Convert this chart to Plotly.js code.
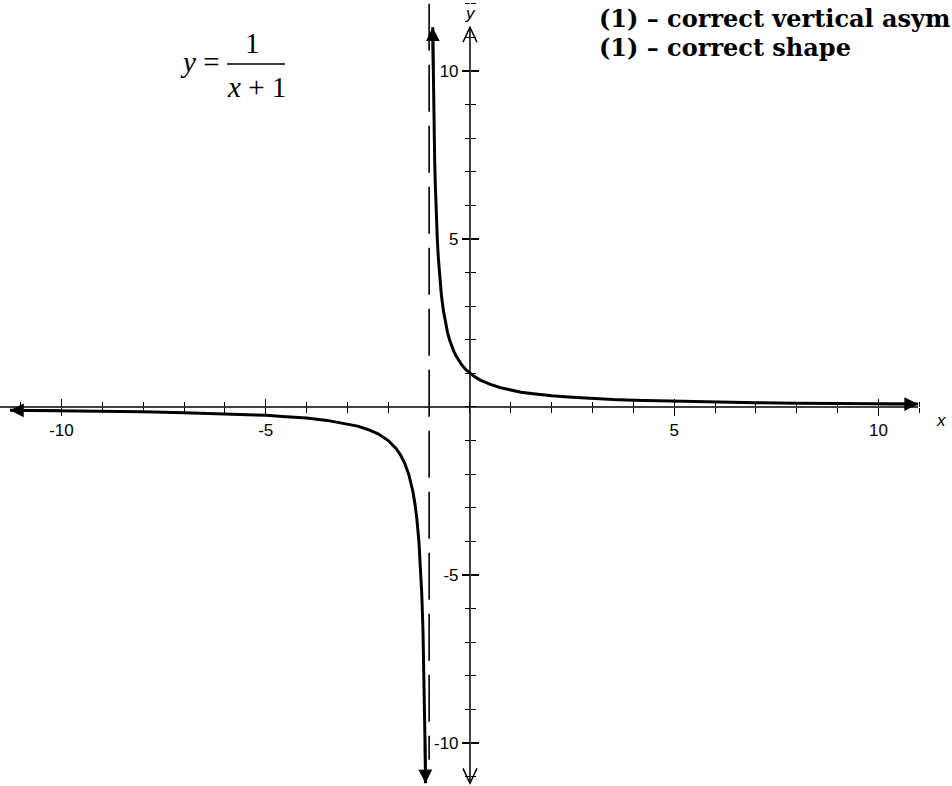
<!DOCTYPE html>
<html>
<head>
<meta charset="utf-8">
<script src="https://cdn.plot.ly/plotly-3.0.1.min.js"></script>
<style>html,body{margin:0;padding:0;background:#fff;}#chart{width:952px;height:786px;}</style>
</head>
<body>
<div id="chart"></div>
<script>
// ---- data ----
const rightBranchX = [-0.912, -0.9, -0.89, -0.88, -0.865, -0.85, -0.83, -0.8, -0.775, -0.75, -0.72, -0.7, -0.65, -0.6, -0.55, -0.5, -0.45, -0.4, -0.35, -0.3, -0.25, -0.2, -0.1, 0, 0.1, 0.25, 0.4, 0.5, 0.75, 1, 1.25, 1.5, 2, 2.5, 3, 3.5, 4, 5, 6, 7, 8, 9, 10, 10.97];
const rightBranchY = [11.3, 10, 9.09, 8.33, 7.41, 6.67, 5.88, 5, 4.44, 4, 3.57, 3.33, 2.86, 2.5, 2.22, 2, 1.82, 1.67, 1.54, 1.43, 1.33, 1.25, 1.11, 1, 0.91, 0.8, 0.71, 0.67, 0.57, 0.5, 0.44, 0.4, 0.33, 0.29, 0.25, 0.22, 0.2, 0.17, 0.14, 0.125, 0.11, 0.1, 0.09, 0.084];
const leftBranchX = [-11.26, -10, -9, -8, -7, -6, -5, -4.5, -4, -3.5, -3, -2.75, -2.5, -2.25, -2, -1.9, -1.8, -1.7, -1.6, -1.5, -1.45, -1.4, -1.35, -1.3, -1.25, -1.22, -1.2, -1.18, -1.15, -1.13, -1.12, -1.11, -1.1, -1.089];
const leftBranchY = [-0.097, -0.11, -0.125, -0.14, -0.17, -0.2, -0.25, -0.29, -0.33, -0.4, -0.5, -0.57, -0.67, -0.8, -1, -1.11, -1.25, -1.43, -1.67, -2, -2.22, -2.5, -2.86, -3.33, -4, -4.55, -5, -5.56, -6.67, -7.69, -8.33, -9.09, -10, -11.2];
const asymptoteX = -1;
const xTickVals = [-10, -5, 5, 10];
const xTickText = ["-10", "-5", "5", "10"];
const yTickVals = [-10, -5, 5, 10];
const yTickText = ["-10", "-5", "5", "10"];
const noteLines = ["(1) – correct vertical asym", "(1) – correct shape"];

// ---- layout helpers ----
const W = 952, H = 786;
const xRange = [-11.505, 11.80];
const yRange = [-11.28, 12.11];
const xAxisPos = (0 - yRange[0]) / (yRange[1] - yRange[0]);
const yAxisPos = (0 - xRange[0]) / (xRange[1] - xRange[0]);
const px = v => v / W;
const py = v => 1 - v / H;
const tickFont = {family: "Liberation Sans, Arial, sans-serif", size: 17, color: "#000"};
const serif = "Liberation Serif, Times New Roman, serif";
const noteFont = {family: "DejaVu Serif, serif", size: 24, color: "#000"};

const curveLine = {color: "#000", width: 3};
const traces = [
  {x: leftBranchX, y: leftBranchY, mode: "lines", line: curveLine, hoverinfo: "skip", showlegend: false},
  {x: rightBranchX, y: rightBranchY, mode: "lines", line: curveLine, hoverinfo: "skip", showlegend: false},
  {x: [], y: [], xaxis: "x2", yaxis: "y2", mode: "lines", hoverinfo: "skip", showlegend: false}
];

const lastL = leftBranchX.length - 1, lastR = rightBranchX.length - 1;
function curveArrow(xs, ys, tipIdx, tailIdx) {
  return {x: xs[tipIdx], y: ys[tipIdx], ax: xs[tailIdx], ay: ys[tailIdx], xref: "x", yref: "y", axref: "x", ayref: "y",
    text: "", showarrow: true, arrowhead: 2, arrowsize: 1.1, arrowwidth: 2.5, arrowcolor: "#000", standoff: 0, startstandoff: 0};
}
function label(xp, yp, text, font, xanchor) {
  return {x: px(xp), y: py(yp), xref: "paper", yref: "paper", xanchor: xanchor || "center", yanchor: "middle", text: text, showarrow: false, font: font};
}

const annotations = [
  curveArrow(rightBranchX, rightBranchY, 0, 1),
  curveArrow(rightBranchX, rightBranchY, lastR, lastR - 1),
  curveArrow(leftBranchX, leftBranchY, 0, 1),
  curveArrow(leftBranchX, leftBranchY, lastL, lastL - 1),
  // axis names
  label(470, 13, "<i>y</i>", {family: "Liberation Sans, Arial", size: 17, color: "#000"}),
  label(941, 420, "<i>x</i>", {family: "Liberation Sans, Arial", size: 17, color: "#000"}),
  // formula
  label(199, 62, "<i>y</i> =", {family: serif, size: 29, color: "#000"}),
  label(252, 43, "1", {family: serif, size: 29, color: "#000"}),
  label(256, 87, "<i>x</i> + 1", {family: serif, size: 29, color: "#000"}),
  // notes
  label(597, 18, "<b>" + noteLines[0] + "</b>", noteFont, "left"),
  label(597, 48, "<b>" + noteLines[1] + "</b>", noteFont, "left")
];

function vArrow(yTip, dir) {
  const d = dir > 0 ? "M-7,-15L0,0L7,-15" : "M-7,15L0,0L7,15";
  return {type: "path", xref: "x", yref: "y", xsizemode: "pixel", ysizemode: "pixel", xanchor: 0, yanchor: yTip, path: d, line: {color: "#000", width: 1.5}};
}

const shapes = [
  {type: "line", xref: "paper", yref: "y", x0: 0, x1: px(918), y0: 0, y1: 0, line: {color: "#000", width: 1.5}},
  {type: "line", xref: "x", yref: "y", x0: 0, x1: 0, y0: 11.3, y1: -11.2, line: {color: "#000", width: 1.5}},
  vArrow(11.3, 1), vArrow(-11.2, -1),
  {type: "line", xref: "x", yref: "y", x0: asymptoteX, x1: asymptoteX, y0: 12.0, y1: -10.5, line: {color: "#000", width: 1.6, dash: "47px,14px"}},
  {type: "line", xref: "paper", yref: "paper", x0: px(227), x1: px(285), y0: py(64), y1: py(64), line: {color: "#000", width: 1.5}}
];

const baseX = {range: xRange, showgrid: false, zeroline: false, showline: false, anchor: "free", position: xAxisPos, fixedrange: true};
const baseY = {range: yRange, showgrid: false, zeroline: false, showline: false, anchor: "free", position: yAxisPos, fixedrange: true};
const minorOut = {dtick: 1, tick0: 0, ticks: "outside", ticklen: 5, tickwidth: 1, tickcolor: "#000"};
const minorIn = {dtick: 1, tick0: 0, ticks: "inside", ticklen: 5, tickwidth: 1, tickcolor: "#000"};

const layout = {
  width: W, height: H,
  margin: {l: 0, r: 0, t: 0, b: 0},
  paper_bgcolor: "#fff", plot_bgcolor: "#fff",
  showlegend: false,
  xaxis: Object.assign({}, baseX, {tickmode: "array", tickvals: xTickVals, ticktext: xTickText, ticks: "outside", ticklen: 8, tickwidth: 1.2, tickcolor: "#000", tickfont: tickFont, minor: minorOut}),
  yaxis: Object.assign({}, baseY, {tickmode: "array", tickvals: yTickVals, ticktext: yTickText, ticks: "outside", ticklen: 8, tickwidth: 1.2, tickcolor: "#000", tickfont: tickFont, minor: minorOut}),
  xaxis2: Object.assign({}, baseX, {overlaying: "x", tickmode: "array", tickvals: xTickVals, showticklabels: false, ticks: "inside", ticklen: 8, tickwidth: 1.2, tickcolor: "#000", minor: minorIn}),
  yaxis2: Object.assign({}, baseY, {overlaying: "y", tickmode: "array", tickvals: yTickVals, showticklabels: false, ticks: "inside", ticklen: 8, tickwidth: 1.2, tickcolor: "#000", minor: minorIn}),
  annotations: annotations,
  shapes: shapes
};

Plotly.newPlot("chart", traces, layout, {staticPlot: true, displayModeBar: false});
</script>
</body>
</html>
